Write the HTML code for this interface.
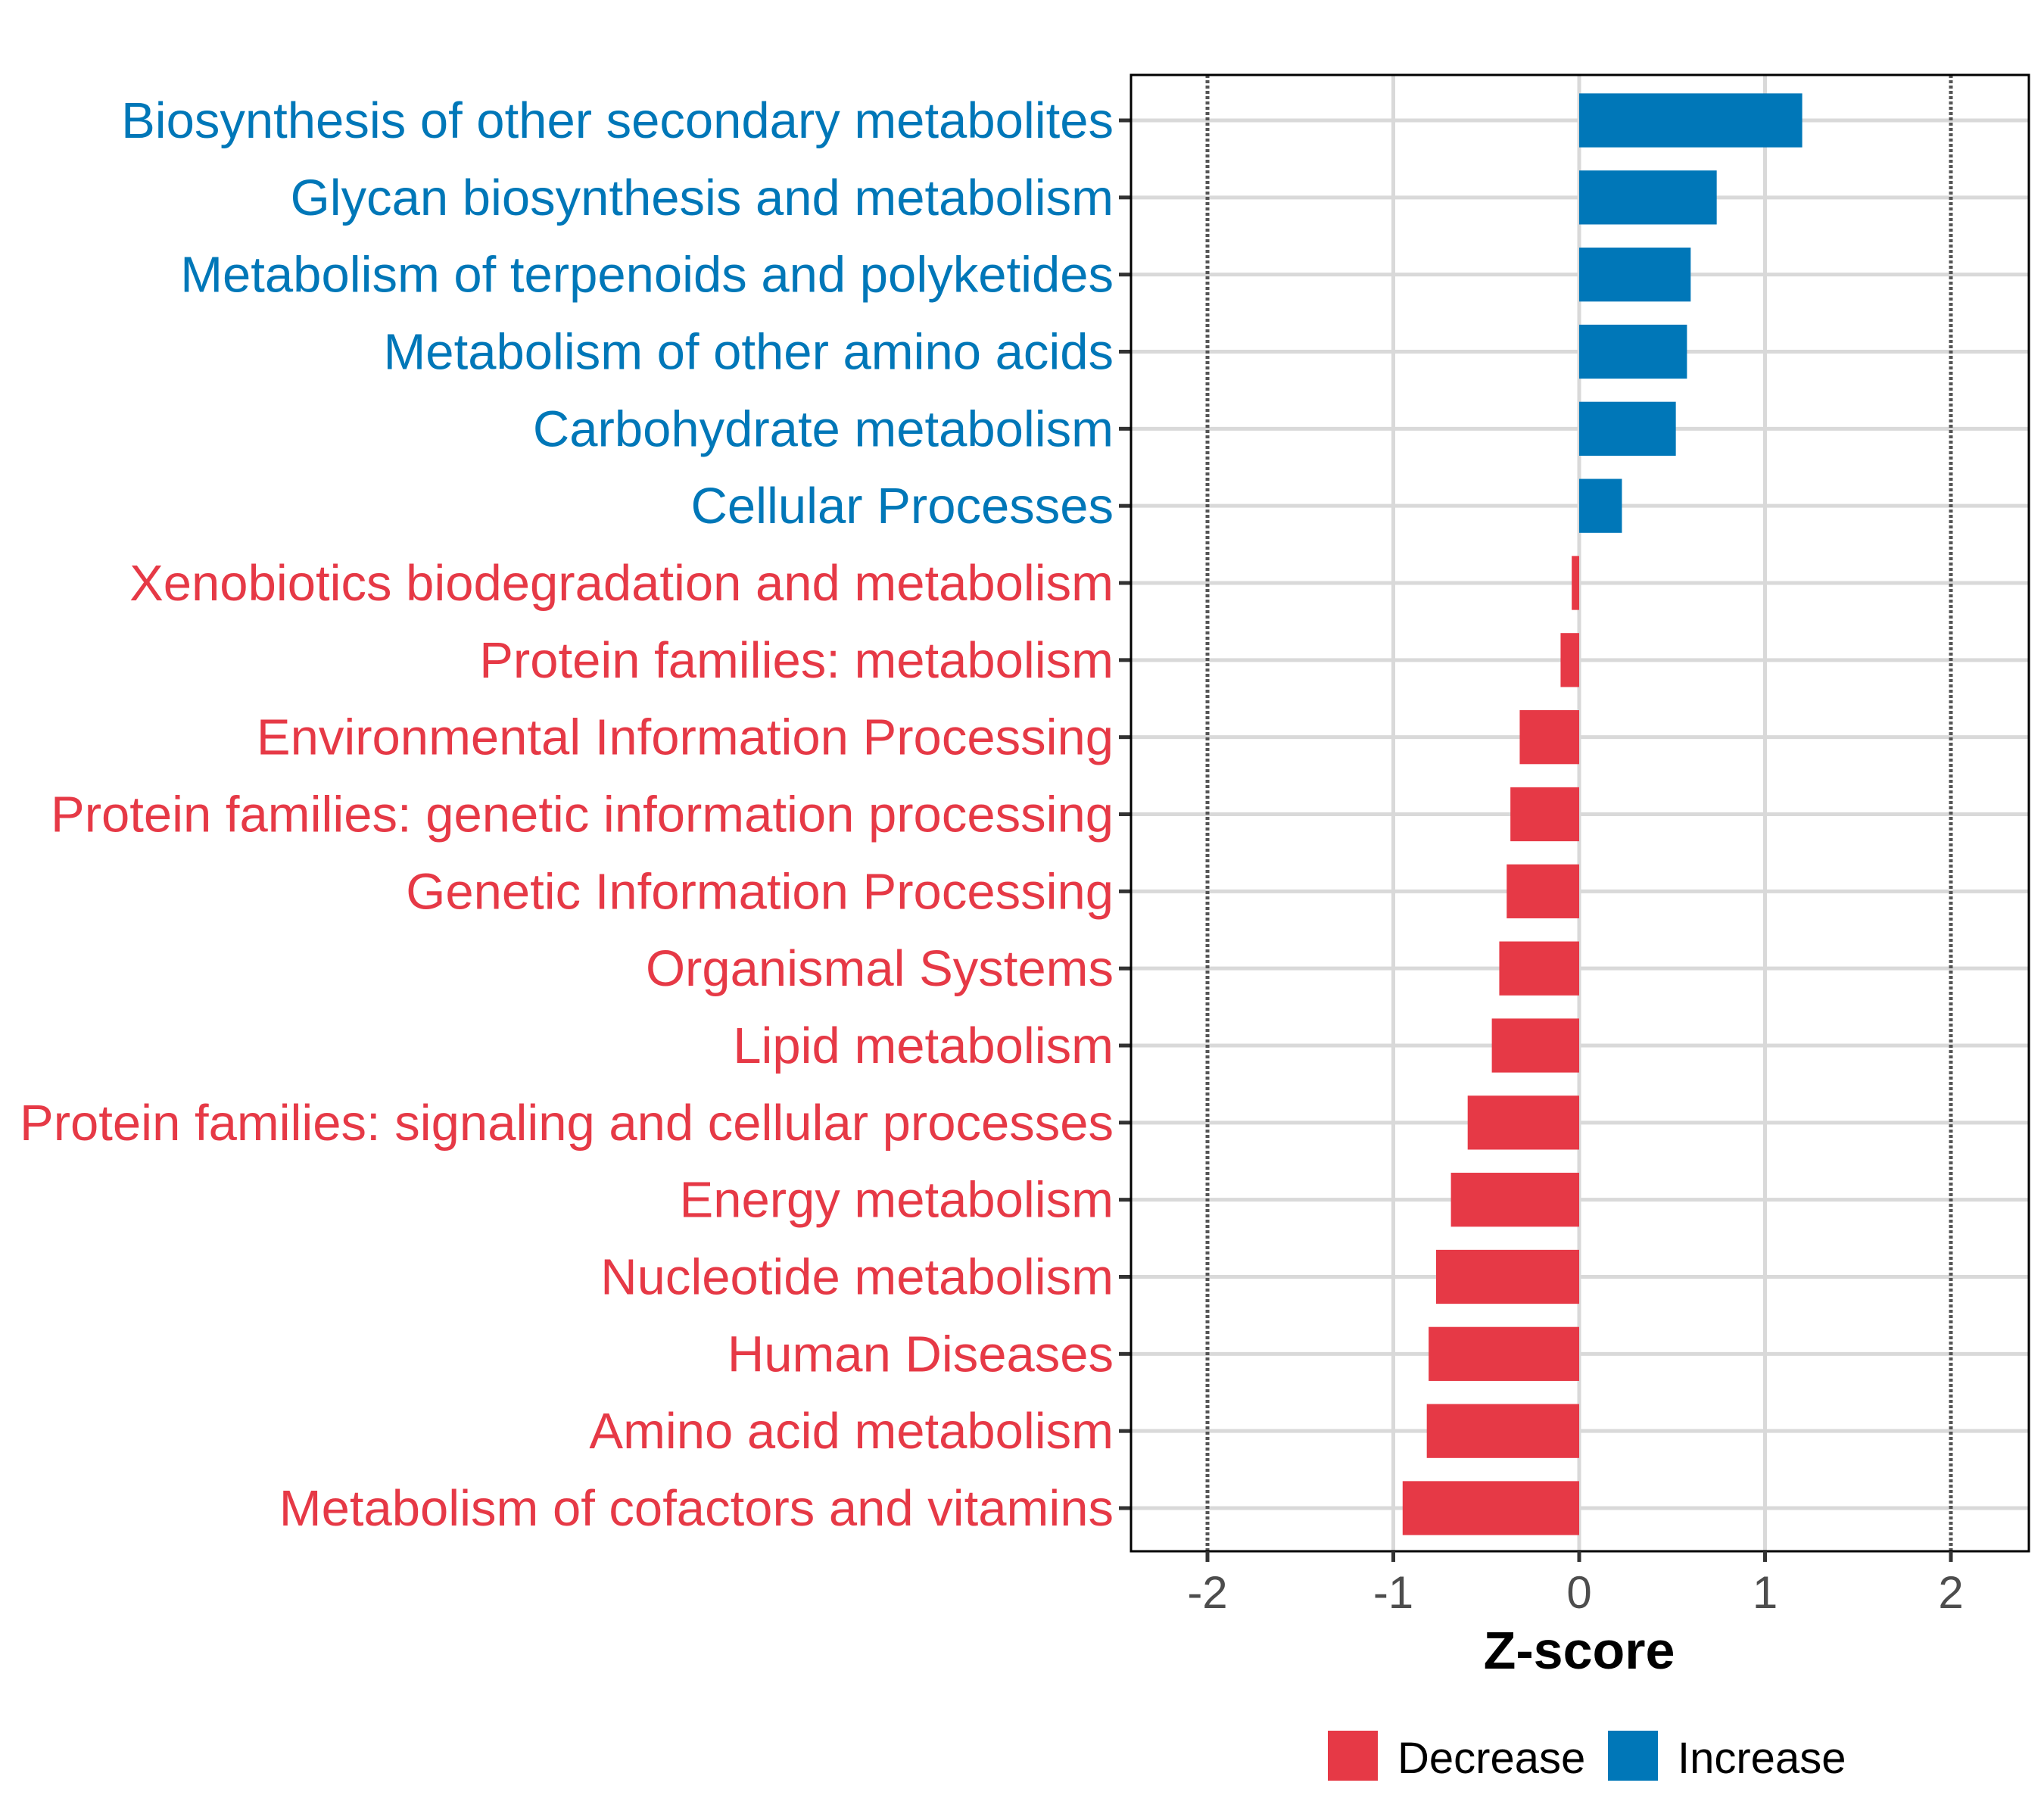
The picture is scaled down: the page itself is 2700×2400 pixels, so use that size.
<!DOCTYPE html>
<html><head><meta charset="utf-8"><style>
html,body{margin:0;padding:0;background:#fff}
svg{display:block;font-family:"Liberation Sans",Arial,sans-serif}
</style></head><body>
<svg id="chart" width="2700" height="2400" viewBox="0 0 2700 2400">
<g id="grid"></g><g id="bars"></g><g id="axes"></g>
</svg>
<script>
const categories=["Biosynthesis of other secondary metabolites","Glycan biosynthesis and metabolism","Metabolism of terpenoids and polyketides","Metabolism of other amino acids","Carbohydrate metabolism","Cellular Processes","Xenobiotics biodegradation and metabolism","Protein families: metabolism","Environmental Information Processing","Protein families: genetic information processing","Genetic Information Processing","Organismal Systems","Lipid metabolism","Protein families: signaling and cellular processes","Energy metabolism","Nucleotide metabolism","Human Diseases","Amino acid metabolism","Metabolism of cofactors and vitamins"];
const zscores=[1.20,0.74,0.60,0.58,0.52,0.23,-0.04,-0.10,-0.32,-0.37,-0.39,-0.43,-0.47,-0.60,-0.69,-0.77,-0.81,-0.82,-0.95];
const xTicks=[-2,-1,0,1,2];
const thresholds=[-2,2];

const NS="http://www.w3.org/2000/svg";
const P={l:1494,r:2680,t:99,b:2049};
const x0=2086,unit=245.5;
function xs(v){return x0+v*unit;}
const step=(1992-159)/(categories.length-1);
function ys(i){return 159+i*step;}
const BLUE="#0077b8",RED="#e63946";
function mk(tag,attrs,parent){const e=document.createElementNS(NS,tag);for(const k in attrs)e.setAttribute(k,attrs[k]);parent.appendChild(e);return e;}
const grid=document.getElementById('grid'),bars=document.getElementById('bars'),axes=document.getElementById('axes');
mk('rect',{x:P.l,y:P.t,width:P.r-P.l,height:P.b-P.t,fill:"#fff"},grid);
xTicks.forEach(t=>{if(thresholds.indexOf(t)<0){const g=mk('line',{x1:xs(t),x2:xs(t),y1:P.t,y2:P.b,stroke:"#d9d9d9","stroke-width":5},grid);

}});
categories.forEach((c,i)=>{const g=mk('line',{x1:P.l,x2:P.r,y1:ys(i),y2:ys(i),stroke:"#d9d9d9","stroke-width":5},grid);

});
thresholds.forEach(t=>{const l=mk('line',{x1:xs(t),x2:xs(t),y1:P.t,y2:P.b,stroke:"#555","stroke-width":5,"stroke-dasharray":"4 3"},grid);

});
const bh=step*0.7;
categories.forEach((c,i)=>{const v=zscores[i];const col=v>=0?BLUE:RED;
const r=mk('rect',{x:Math.min(xs(0),xs(v)),y:ys(i)-bh/2,width:Math.abs(xs(v)-xs(0)),height:bh,fill:col},bars);


const t=mk('text',{x:1471,y:ys(i)+23,"text-anchor":"end","font-size":67,fill:col},axes);t.textContent=c;


const tk=mk('line',{x1:1478,x2:P.l,y1:ys(i),y2:ys(i),stroke:"#333","stroke-width":5},axes);

});
const fr=mk('rect',{x:P.l,y:P.t,width:P.r-P.l,height:P.b-P.t,fill:"none",stroke:"#000","stroke-width":3},axes);


xTicks.forEach(t=>{const l=mk('line',{x1:xs(t),x2:xs(t),y1:P.b,y2:P.b+14,stroke:"#333","stroke-width":5},axes);


const tx=mk('text',{x:xs(t),y:2124,"text-anchor":"middle","font-size":60,fill:"#4d4d4d"},axes);tx.textContent=String(t);

});
const xt=mk('text',{x:x0,y:2204,"text-anchor":"middle","font-size":70,"font-weight":"bold",fill:"#000"},axes);xt.textContent="Z-score";


const legend=[["Decrease",RED,1754],["Increase",BLUE,2124]];
legend.forEach(([lab,col,lx])=>{const s=mk('rect',{x:lx,y:2286,width:66,height:66,fill:col},axes);


const t=mk('text',{x:lx+92,y:2342,"font-size":58,fill:"#000"},axes);t.textContent=lab;

});
</script>
</body></html>
